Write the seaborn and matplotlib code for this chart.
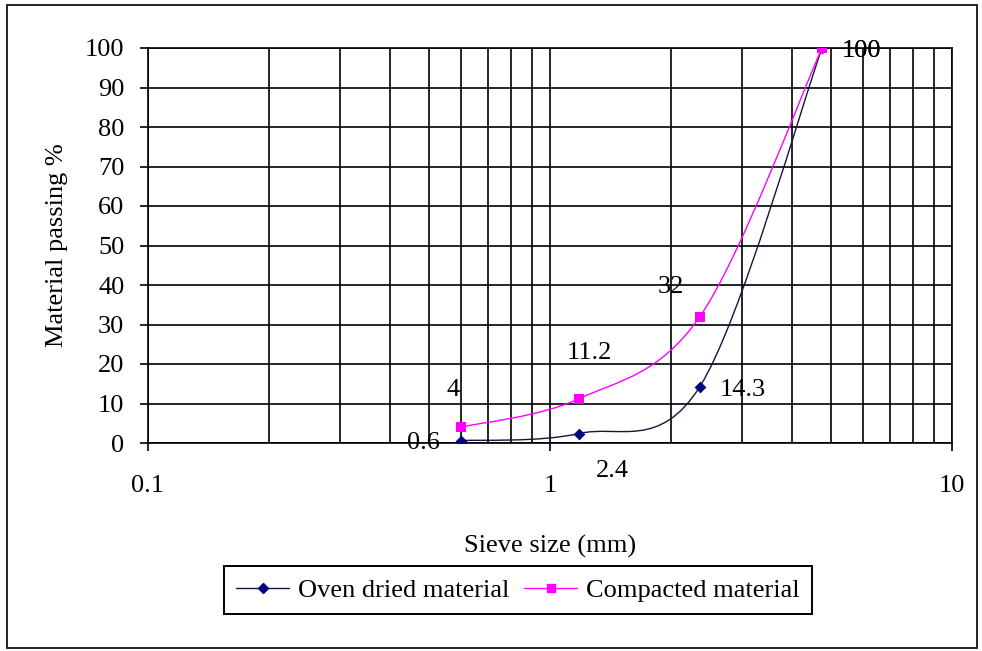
import numpy as np
import pandas as pd
import seaborn as sns
import matplotlib
matplotlib.use("Agg")
import matplotlib.pyplot as plt
from matplotlib.path import Path
from matplotlib.patches import PathPatch, Rectangle
from matplotlib.lines import Line2D
from matplotlib.ticker import FixedLocator, LogLocator, NullFormatter, FixedFormatter

# Grading data: sieve opening (mm) and percentage of material passing
sieve_mm = [0.6, 1.18, 2.36, 4.75]
oven_dried = [0.6, 2.4, 14.3, 100]
compacted = [4, 11.2, 32, 100]
series_names = ["Oven dried material", "Compacted material"]
x_ticks = [0.1, 1, 10]
x_tick_labels = ["0.1", "1", "10"]
y_ticks = list(range(0, 101, 10))

# Styling
colors = {"Oven dried material": "#000080", "Compacted material": "#FF00FF"}
line_colors = {"Oven dried material": "#141440", "Compacted material": "#FF00FF"}
markers = {"Oven dried material": "D", "Compacted material": "s"}
marker_area = {"Oven dried material": 36, "Compacted material": 48}
# data label offsets in pixels (dx, dy)
label_offsets = {
    "Oven dried material": [(-37, -2), (33, -37), (43, -3), (39, -3)],
    "Compacted material": [(-8, 37), (10, 46), (-29, 30), (39, -3)],
}
FS = 19

sns.set_theme(style="white")
plt.rcParams["font.family"] = ["Liberation Serif", "DejaVu Serif"]
plt.rcParams["text.color"] = "black"
plt.rcParams["axes.labelcolor"] = "black"
plt.rcParams["xtick.color"] = "black"
plt.rcParams["ytick.color"] = "black"

df = pd.DataFrame({
    "sieve": sieve_mm * 2,
    "passing": oven_dried + compacted,
    "series": [series_names[0]] * len(sieve_mm) + [series_names[1]] * len(sieve_mm),
})

fig = plt.figure(figsize=(9.82, 6.51), dpi=100)
ax = fig.add_axes([148 / 982, 1 - 443 / 651, 804 / 982, 395 / 651])
ax.set_xscale("log")
ax.set_xlim(0.1, 10)
ax.set_ylim(0, 100)


def smooth_path(xs, ys):
    """Bezier path through the points, built in (log x, y) space."""
    u = np.log10(np.asarray(xs, float))
    y = np.asarray(ys, float)
    n = len(u)
    pts = np.column_stack([u, y])
    verts = [pts[0]]
    codes = [Path.MOVETO]
    for i in range(n - 1):
        p0 = pts[i - 1] if i > 0 else pts[i]
        p1 = pts[i]
        p2 = pts[i + 1]
        p3 = pts[i + 2] if i + 2 < n else pts[i + 1]
        c1 = p1 + (p2 - p0) / 6.0
        c2 = p2 - (p3 - p1) / 6.0
        verts += [c1, c2, p2]
        codes += [Path.CURVE4] * 3
    verts = np.array(verts)
    verts[:, 0] = 10 ** verts[:, 0]
    return Path(verts, codes)


for name, vals in zip(series_names, [oven_dried, compacted]):
    patch = PathPatch(smooth_path(sieve_mm, vals), fill=False,
                      edgecolor=line_colors[name], lw=1.0, zorder=3)
    ax.add_patch(patch)

for name in series_names:
    sub = df[df["series"] == name]
    sns.scatterplot(data=sub, x="sieve", y="passing", ax=ax,
                    marker=markers[name], color=colors[name],
                    s=marker_area[name], linewidth=0, zorder=4, legend=False)

# data labels
for name, vals in zip(series_names, [oven_dried, compacted]):
    for x, v, (dx, dy) in zip(sieve_mm, vals, label_offsets[name]):
        ax.annotate(f"{v:g}", xy=(x, v), xytext=(dx, dy),
                    textcoords="offset pixels", ha="center", va="center",
                    fontsize=FS, color="black", zorder=5)

# axes and grid
ax.xaxis.set_major_locator(FixedLocator(x_ticks))
ax.xaxis.set_major_formatter(FixedFormatter(x_tick_labels))
ax.xaxis.set_minor_locator(LogLocator(base=10, subs=np.arange(2, 10)))
ax.xaxis.set_minor_formatter(NullFormatter())
ax.yaxis.set_major_locator(FixedLocator(y_ticks))
ax.set_axisbelow(True)
ax.grid(True, which="both", axis="x", color="black", lw=1.2)
ax.grid(True, which="major", axis="y", color="black", lw=1.2)
ax.tick_params(axis="both", which="major", direction="out", length=6,
               width=1.2, labelsize=FS, bottom=True, left=True)
ax.tick_params(axis="x", which="major", pad=17)
ax.tick_params(axis="y", which="major", pad=11)
ax.tick_params(axis="x", which="minor", length=0)
for sp in ax.spines.values():
    sp.set_color("black")
    sp.set_linewidth(1.2)

ax.set_xlabel("Sieve size (mm)", fontsize=FS, va="center")
ax.xaxis.set_label_coords(0.5, -(546 - 443) / 395)
ax.set_ylabel("Material passing %", fontsize=FS, va="center")
ax.yaxis.set_label_coords(-(148 - 57) / 804, 0.5)

# legend
handles = [Line2D([], [], color=line_colors[n], lw=1.0, marker=markers[n],
                  markerfacecolor=colors[n], markeredgecolor=colors[n],
                  markersize=5 if n == series_names[0] else 5.5)
           for n in series_names]
leg = fig.legend(handles, series_names, loc="center", ncol=2,
                 bbox_to_anchor=(518 / 982, 1 - 590 / 651),
                 fontsize=FS, frameon=True, fancybox=False, framealpha=1,
                 edgecolor="black", handlelength=2.0, handletextpad=0.35,
                 columnspacing=0.55, borderpad=0.45, borderaxespad=0)
leg.get_frame().set_linewidth(1.4)

# chart border
fig.patches.append(Rectangle((7 / 982, 1 - 648 / 651), 970 / 982, 643 / 651,
                             transform=fig.transFigure, fill=False,
                             edgecolor="#222222", lw=1.4))

fig.savefig("out.png", dpi=100, facecolor="white")
